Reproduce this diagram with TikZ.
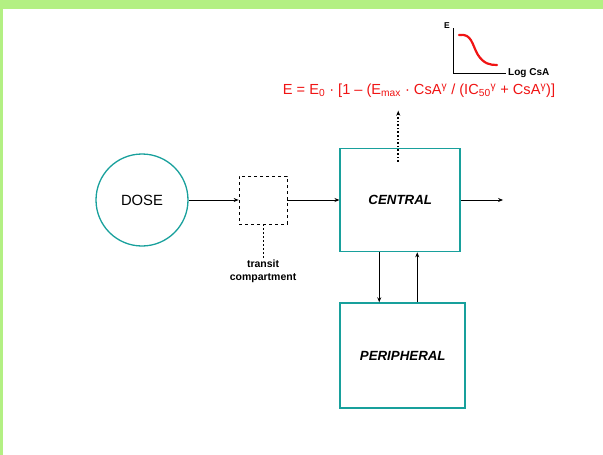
\documentclass[tikz,border=0pt]{standalone}
\usepackage{fontspec}
\setmainfont{Liberation Sans}
\usepackage{tikz}
\usetikzlibrary{positioning, arrows.meta, calc}
\definecolor{pkteal}{RGB}{24, 160, 156}
\definecolor{pkgreen}{RGB}{179, 240, 131}
\definecolor{pkred}{RGB}{240, 20, 20}
\tikzset{
  comp/.style={draw=pkteal, line width=1.6pt, fill=white, align=center,
    font=\fontsize{13.3}{15}\selectfont\bfseries\itshape},
  flow/.style={draw=black, line width=0.8pt, ->},
  lbl/.style={font=\fontsize{10.5}{13}\selectfont\bfseries, inner sep=1pt, align=center},
}

\begin{document}
\begin{tikzpicture}[x=1pt, y=-1pt, >={Stealth[length=5pt, width=4pt]}]

% page frame
\fill[pkgreen] (0,0) rectangle (603,455);
\fill[white] (3,9) rectangle (603,455);
\useasboundingbox (0,0) rectangle (603,455);

\node[draw=pkteal, line width=1.3pt, circle, minimum size=92pt, font=\fontsize{14.8}{16}\selectfont] (dose) at (142,200) {DOSE};
\node[draw, dashed, line width=0.8pt, minimum size=48pt, right=50pt of dose] (transit) {};
\node[lbl, below=34pt of transit] (transitlbl) {transit\\compartment};
\node[comp, minimum width=120pt, minimum height=103pt, right=52pt of transit] (central) {CENTRAL};
\node[comp, minimum width=125pt, minimum height=105pt, below=50pt of central.south west, anchor=north west] (periph) {PERIPHERAL};
\coordinate[right=42pt of central] (out);
\coordinate[above=37pt of central.north, xshift=-2pt] (effect);

\node[text=pkred, font=\fontsize{14.6}{16}\selectfont, inner sep=1pt] (eqn) at (419,91)
  {E = E\textsubscript{0} · [1 – (E\textsubscript{max} · CsA\textsuperscript{γ} / (IC\textsubscript{50}\textsuperscript{γ} + CsA\textsuperscript{γ})]};

\draw[flow] (dose) -- (transit);
\draw[flow] (transit) -- (central);
\draw[flow] (central) -- (out);
\draw[line width=0.8pt, dash pattern=on 2pt off 2pt] (transit.south) -- (transitlbl.north);
\draw[flow, line width=1.6pt, dotted] ([xshift=-2pt, yshift=-14pt]central.north) -- (effect);
\draw[flow] ([xshift=-21pt]central.south) -- ([xshift=-21pt]central.south |- periph.north);
\draw[flow] ([xshift=17pt]central.south |- periph.north) -- ([xshift=17pt]central.south);

% inset: effect against log concentration
\coordinate (orig) at (453,73);
\draw[line width=0.8pt] (453,28) -- (orig) -- (506,73);
\node[lbl, font=\fontsize{8.5}{9}\selectfont\bfseries, anchor=east] (elbl) at (451,26) {E};
\node[lbl, font=\fontsize{10}{12}\selectfont\bfseries, anchor=west] (xlbl) at (507,73) {Log CsA};
\draw[pkred, line width=2.2pt, line cap=round]
  (459,35) .. controls (472,33) and (472,45) .. (478,55)
  .. controls (484,64) and (490,65) .. (497,65);

\end{tikzpicture}
\end{document}
